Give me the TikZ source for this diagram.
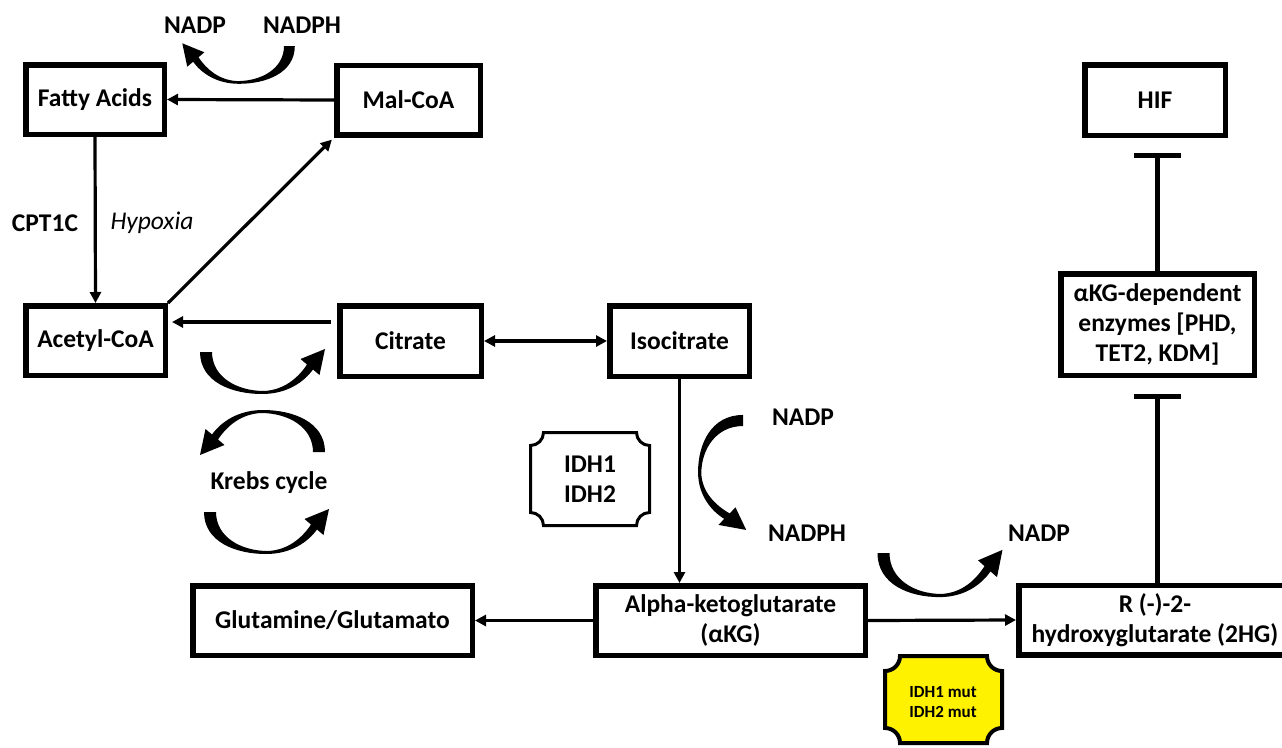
\documentclass[tikz,border=0pt]{standalone}
\usepackage{fontspec}
\setmainfont{Carlito}
\usetikzlibrary{arrows.meta,calc}
\newcommand\fatarrow[1]{%
  \begin{scope}[#1]
    \fill (-62,0) .. controls (-62,30) and (-30,42) .. (0,42)
      .. controls (25,42) and (42,30) .. (51,17.5)
      -- (57.5,23) -- (63,-3) -- (38.5,7) -- (45,12.5)
      .. controls (36,26) and (22,38) .. (2,39)
      .. controls (-25,39) and (-50,25) .. (-50,0) -- cycle;
  \end{scope}}
\newcommand\plaque[3]{% node, radius, style
  \draw[#3] ([xshift=#2]#1.north west) -- ([xshift=-#2]#1.north east)
    arc[start angle=180,end angle=270,radius=#2]
    -- ([yshift=#2]#1.south east) arc[start angle=90,end angle=180,radius=#2]
    -- ([xshift=#2]#1.south west) arc[start angle=0,end angle=90,radius=#2]
    -- ([yshift=-#2]#1.north west) arc[start angle=270,end angle=360,radius=#2]
    -- cycle;}
\begin{document}
\begin{tikzpicture}[x=1pt,y=-1pt,
  box/.style={draw, line width=5.5pt, inner sep=0pt, align=center,
    font=\bfseries\fontsize{25.5}{30}\selectfont},
  lbl/.style={inner sep=0pt, align=center, font=\bfseries\fontsize{25.5}{30}\selectfont},
  conn/.style={line width=3.2pt, -{Triangle[length=11pt,width=11pt]}},
  dconn/.style={line width=3.2pt, {Triangle[length=11pt,width=11pt]}-{Triangle[length=11pt,width=11pt]}},
  inh/.style={line width=5pt, -{Bar[width=47pt]}},
]
\useasboundingbox (0,0) rectangle (1282,747);
\fill[white] (0,0) rectangle (1282,747);

% boxes
\node[box, minimum width=138.5pt, minimum height=69.5pt] (fatty) at (95,99.5) {Fatty Acids};
\node[box, minimum width=143.5pt, minimum height=69.5pt] (mal) at (408.5,100) {Mal-CoA};
\node[box, minimum width=139.5pt, minimum height=69.5pt] (acetyl) at (95.5,340.5) {Acetyl-CoA};
\node[box, minimum width=141.5pt, minimum height=70.5pt] (citrate) at (410.5,341) {Citrate};
\node[box, minimum width=139.5pt, minimum height=70.5pt] (iso) at (679.5,341) {Isocitrate};
\node[box, minimum width=279.5pt, minimum height=69.5pt] (glut) at (332.5,620.5) {Glutamine/Glutamato};
\node[box, minimum width=269.5pt, minimum height=69.5pt] (akg) at (730.5,620.5) {Alpha-ketoglutarate\\(αKG)};
\node[box, minimum width=272.5pt, minimum height=69.5pt] (twohg) at (1155,620) {R (-)-2-\\hydroxyglutarate (2HG)};
\node[box, minimum width=140.5pt, minimum height=70.5pt] (hif) at (1155,100) {HIF};
\node[box, minimum width=193.5pt, minimum height=101.5pt] (akgdep) at (1157.5,324.5) {αKG-dependent\\enzymes [PHD,\\TET2, KDM]};

% plaques
\node[lbl, minimum width=119pt, minimum height=93pt, outer sep=0pt] (idh) at (590,479) {IDH1\\IDH2};
\plaque{idh}{13pt}{line width=3pt}
\node[inner sep=0pt, outer sep=0pt, minimum width=117pt, minimum height=87pt] (idhmut) at (943.5,699.5) {};
\plaque{idhmut}{15pt}{line width=4pt, fill=yellow}
\node[inner sep=0pt, align=center, font=\bfseries\fontsize{17}{19.5}\selectfont] (idhmuttxt) at (943,702) {IDH1 mut\\IDH2 mut};

% labels
\node[lbl] (nadpA) at (195,25) {NADP};
\node[lbl] (nadphA) at (302,25) {NADPH};
\node[lbl] (cpt) at (45,223) {CPT1C};
\node[inner sep=0pt, font=\itshape\fontsize{25.5}{30}\selectfont] (hyp) at (152,223) {Hypoxia};
\node[lbl] (krebs) at (269,483) {Krebs cycle};
\node[lbl] (nadpB) at (803,417) {NADP};
\node[lbl] (nadphB) at (807,533) {NADPH};
\node[lbl] (nadpC) at (1039,533) {NADP};

% connectors
\draw[conn] (mal.west) -- (fatty.east);
\draw[conn] (fatty.south) -- (acetyl.north);
\draw[conn, shorten >=3pt] (acetyl.north east) -- (mal.south west);
\draw[conn] ([xshift=-6pt,yshift=19pt]citrate.west) -- ([xshift=4pt,yshift=18.5pt]acetyl.east);
\draw[dconn] (citrate.east) -- (iso.west);
\draw[conn] (iso.south) -- (iso.south |- akg.north);
\draw[conn] (akg.west) -- (glut.east);
\draw[conn] (akg.east) -- (twohg.west);

\coordinate (barA) at (1157,153);
\coordinate (barB) at (1157,394);
\draw[inh] (akgdep.north -| barA) -- (barA);
\draw[inh] (twohg.north -| barB) -- (barB);

% fat curved arrows
\fatarrow{shift={(239,46)}, xscale=-0.9, yscale=0.9}
\fatarrow{shift={(262,352)}}
\fatarrow{shift={(263,452)}, rotate=180}
\fatarrow{shift={(266,512)}}
\fatarrow{shift={(743,472)}, rotate=-90, xscale=0.92, yscale=1.07}
\fatarrow{shift={(939.5,553)}, yscale=1.05}
\end{tikzpicture}
\end{document}
